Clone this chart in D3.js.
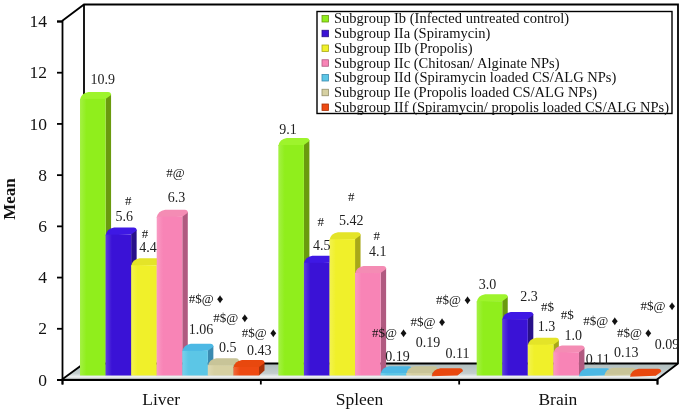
<!DOCTYPE html>
<html><head><meta charset="utf-8">
<script src="https://cdn.jsdelivr.net/npm/d3@7/dist/d3.min.js"></script>
<style>html,body{margin:0;padding:0;background:#fff}svg{display:block;filter:blur(.35px)}text{font-family:"Liberation Serif",serif}</style>
</head><body><svg id="c" width="680" height="414"></svg>
<script>
const categories = ["Liver","Spleen","Brain"];
const subgroups = ["Subgroup Ib (Infected untreated control)","Subgroup IIa (Spiramycin)","Subgroup IIb (Propolis)","Subgroup IIc (Chitosan/ Alginate NPs)","Subgroup IId (Spiramycin loaded CS/ALG NPs)","Subgroup IIe (Propolis loaded CS/ALG NPs)","Subgroup IIf (Spiramycin/ propolis loaded CS/ALG NPs)"];
const liver = [10.9,5.6,4.4,6.3,1.06,0.5,0.43];
const spleen = [9.1,4.5,5.42,4.1,0.19,0.19,0.11];
const brain = [3.0,2.3,1.3,1.0,0.11,0.13,0.09];
const liverText = ["10.9","5.6","4.4","6.3","1.06","0.5","0.43"];
const spleenText = ["9.1","4.5","5.42","4.1","0.19","0.19","0.11"];
const brainText = ["3.0","2.3","1.3","1.0","0.11","0.13","0.09"];
const D = "#$@ \u2666";
const liverMarks = ["","#","#","#@",D,D,D];
const spleenMarks = ["","#","#","#",D,D,D];
const brainMarks = ["","","#$","#$",D,D,D];
const yTicks = [0,2,4,6,8,10,12,14];
const colors = ["#90ee1c","#3a12d6","#f0f02a","#f884b6","#5cc6e6","#d6d0a2","#ee4a12"];
const sideColors = ["#6a9a0e","#28108a","#a8a818","#b05a80","#3a8ab0","#94906a","#a83208"];
const topColors = ["#9ef42c","#3e18e4","#e4e428","#f48cb4","#4cb8e4","#c8c498","#e8480e"];

// label placement (offset from each bar's front-top centre)
const valueOffsets = [
 [[10,-19],[6,-18],[4,-17],[7,-19],[6,-21],[7,-17],[13,-16]],
 [[-3,-15],[5,-17],[9,-18],[10,-21],[4,-16],[9,-30],[13,-21]],
 [[-2,-16],[14,-22],[6,-18],[7,-16],[6,-15],[9,-22],[24,-31]]];
const markOffsets = [
 [[0,0],[10,-33],[1,-31],[6,-43],[11,-51],[10,-47],[13,-34]],
 [[0,0],[4,-40],[9,-42],[9,-37],[-4,-40],[9,-51],[9,-75]],
 [[0,0],[0,0],[7,-37],[1,-37],[9,-54],[17,-41],[15,-69]]];

const W=680,H=414;
const svg=d3.select("#c");
const left=62,right=657,depthX=22,depthY=16;
const y=d3.scaleLinear().domain([0,14]).range([379.5,21]);
const barY=v=>y(v)-2.5;
const barBase=375.5;
const xOuter=d3.scaleBand().domain(categories).range([left,right]);
const xInner=d3.scaleBand().domain(d3.range(7)).range([18,197]);
const defs=svg.append("defs");
const fg=defs.append("linearGradient").attr("id","floor").attr("x1",0).attr("x2",0).attr("y1",0).attr("y2",1);
fg.append("stop").attr("offset",0).attr("stop-color","#aebcbc");
fg.append("stop").attr("offset",.62).attr("stop-color","#c4cece");
fg.append("stop").attr("offset",.85).attr("stop-color","#f4f6f6");
fg.append("stop").attr("offset",1).attr("stop-color","#8a9090");
colors.forEach((c,i)=>{
  const g=defs.append("linearGradient").attr("id","b"+i);
  g.append("stop").attr("offset",0).attr("stop-color",d3.interpolateRgb(c,"#fff")(.18));
  g.append("stop").attr("offset",.25).attr("stop-color",c);
  g.append("stop").attr("offset",1).attr("stop-color",c);
});

// walls and floor
const ax="#000";
svg.append("path").attr("d",`M${left},${y(0)}L${left+depthX},${y(0)-depthY}L${W-2},${y(0)-depthY}L${right},${y(0)}Z`).attr("fill","url(#floor)");
svg.append("path").attr("d",`M${left},${y(14)}L${left+depthX},4.5L${W-2},4.5L${W-2},${y(0)-depthY}L${right},${y(0)}`).attr("fill","none").attr("stroke",ax).attr("stroke-width",1.8);
svg.append("path").attr("d",`M${left},${y(0)}L${left+depthX},${y(0)-depthY}L${W-2},${y(0)-depthY}M${left+depthX},4.5V${y(0)-depthY}`).attr("fill","none").attr("stroke",ax).attr("stroke-width",1.8);

// axes
const yAxis=d3.axisLeft(y).tickValues(yTicks).tickSize(5).tickPadding(10).tickFormat(d3.format("d"));
const gy=svg.append("g").attr("transform",`translate(${left},0)`).call(yAxis);
gy.selectAll("path,line").attr("stroke",ax).attr("stroke-width",1.8);
gy.selectAll("text").attr("font-size",17.5).attr("fill","#111").style("font-family",'"Liberation Serif"');
const xEdges=d3.scaleLinear().domain([0,3]).range([left,right]);
const gx=svg.append("g").attr("transform",`translate(0,${y(0)})`).call(d3.axisBottom(xEdges).tickValues([0,1,2,3]).tickSize(5).tickFormat(""));
gx.selectAll("path,line").attr("stroke",ax).attr("stroke-width",1.8);
svg.selectAll("text.cat").data(categories).join("text").attr("class","cat")
  .attr("x",d=>xOuter(d)+xOuter.bandwidth()/2).attr("y",405).attr("text-anchor","middle")
  .attr("font-size",17.5).attr("fill","#111").text(d=>d);
svg.append("text").attr("transform","translate(15,199) rotate(-90)").attr("text-anchor","middle")
  .attr("font-size",17).attr("font-weight","bold").attr("fill","#111").text("Mean");

// bars
const dx=5.5,dy=6,bw=xInner.bandwidth();
[liver,spleen,brain].forEach((vals,g)=>{
  const gg=svg.append("g").attr("transform",`translate(${xOuter(categories[g])},0)`);
  vals.forEach((v,i)=>{
    const x0=xInner(i),t=barY(v),x1=x0+bw,b=barBase;
    gg.append("path").attr("d",`M${x1},${Math.min(t,b)}L${x1+dx},${t-dy+2}V${b-dy+1}L${x1},${b}Z`).attr("fill",sideColors[i]);
    gg.append("path").attr("d",`M${x0},${t+2}Q${x0+1},${t-dy*.8} ${x0+dx+3},${t-dy}L${x1+dx-3},${t-dy}Q${x1+dx},${t-dy} ${x1+dx},${t-dy+3}L${x1},${t+1}Z`).attr("fill",topColors[i]);
    gg.append("rect").attr("x",x0).attr("y",t+1).attr("width",bw).attr("height",Math.max(b-t-1,0)).attr("fill",`url(#b${i})`);
  });
});

// labels
[[liver,liverText,liverMarks],[spleen,spleenText,spleenMarks],[brain,brainText,brainMarks]].forEach(([vals,txt,marks],g)=>{
  vals.forEach((v,i)=>{
    const cx=xOuter(categories[g])+xInner(i)+bw/2,t=barY(v);
    svg.append("text").attr("x",cx+valueOffsets[g][i][0]).attr("y",t+valueOffsets[g][i][1]).attr("dy",".35em")
      .attr("text-anchor","middle").attr("font-size",14).attr("fill","#222").text(txt[i]);
    if(marks[i]) svg.append("text").attr("x",cx+markOffsets[g][i][0]).attr("y",t+markOffsets[g][i][1]).attr("dy",".35em")
      .attr("text-anchor","middle").attr("font-size",13).attr("fill","#111").text(marks[i]);
  });
});

// legend
const lg=svg.append("g");
lg.append("rect").attr("x",317).attr("y",11.5).attr("width",355).attr("height",102).attr("fill","#fff").attr("stroke","#000").attr("stroke-width",1.4);
const ly=d3.scalePoint().domain(d3.range(7)).range([18.5,107]);
subgroups.forEach((s,i)=>{
  lg.append("rect").attr("x",322).attr("y",ly(i)-3).attr("width",6.5).attr("height",6.5).attr("fill",colors[i]).attr("stroke",sideColors[i]).attr("stroke-width",.8);
  lg.append("text").attr("x",334).attr("y",ly(i)).attr("dy",".33em").attr("font-size",14.5).attr("fill","#111").text(s);
});
</script></body></html>
